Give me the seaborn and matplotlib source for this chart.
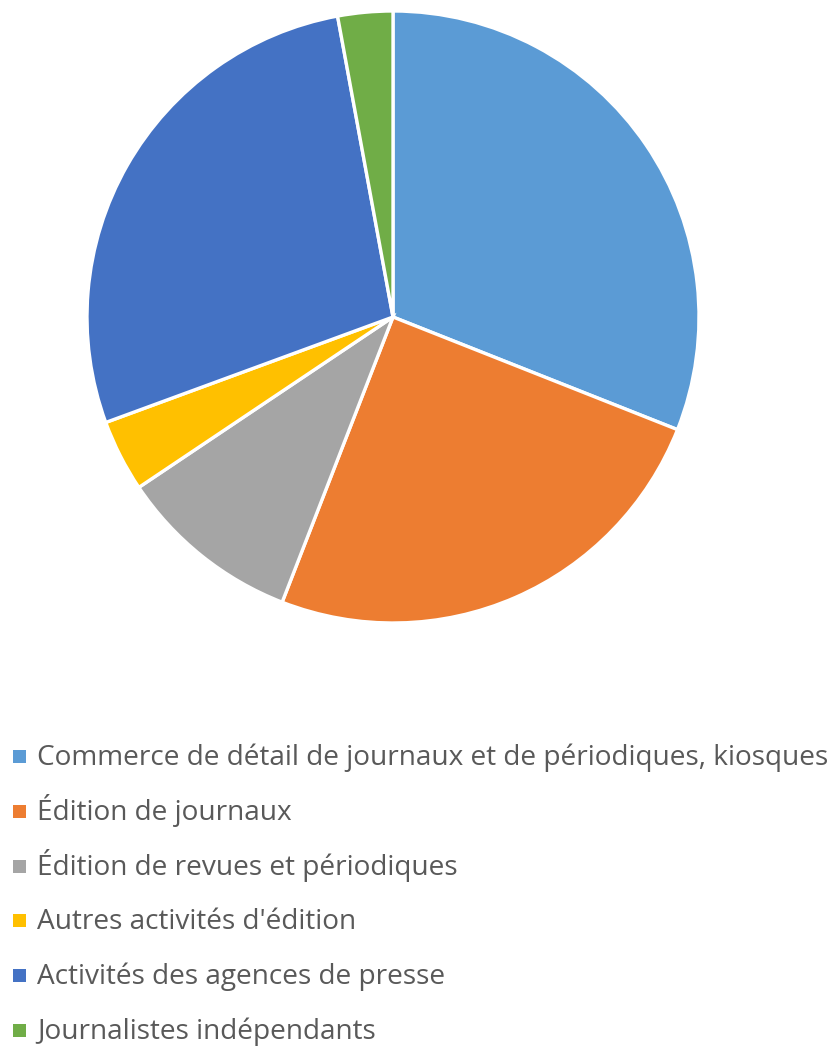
import matplotlib
matplotlib.use("Agg")
import matplotlib.pyplot as plt
import seaborn as sns
import numpy as np

sns.set_theme(style="white")
plt.rcParams['font.family'] = ['Open Sans', 'DejaVu Sans']

categories = [
    "Commerce de détail de journaux et de périodiques, kiosques",
    "Édition de journaux",
    "Édition de revues et périodiques",
    "Autres activités d'édition",
    "Activités des agences de presse",
    "Journalistes indépendants",
]
values = [31.0, 24.9, 9.7, 3.8, 27.7, 2.9]
colors = ["#5B9BD5", "#ED7D31", "#A5A5A5", "#FFC000", "#4472C4", "#70AD47"]

W, H = 831, 1046
fig = plt.figure(figsize=(W / 100, H / 100), dpi=100)
cx, cy, r = 393, 317, 306
ax = fig.add_axes([(cx - r) / W, 1 - (cy + r) / H, 2 * r / W, 2 * r / H])
wedges, _ = ax.pie(values, colors=colors, startangle=90, counterclock=False,
                   radius=1, wedgeprops=dict(edgecolor="white", linewidth=2.4))
ax.set_xlim(-1, 1)
ax.set_ylim(-1, 1)
ax.set_aspect("equal")
ax.axis("off")

# legend drawn in a pixel-coordinate axes
lax = fig.add_axes([0, 0, 1, 1])
lax.set_xlim(0, W)
lax.set_ylim(H, 0)
lax.axis("off")
row0, pitch = 765, 54.8
baselines = row0 + pitch * np.arange(len(categories))
lax.scatter(np.full(len(categories), 19.5), baselines - 8.5, marker="s",
            s=(13 * 0.72) ** 2, c=colors, linewidths=0)
for b, lab in zip(baselines, categories):
    lax.text(37, b, lab, fontsize=20.15, color="#595959", va="baseline", ha="left")

fig.savefig("out.png", dpi=100, facecolor="white")
